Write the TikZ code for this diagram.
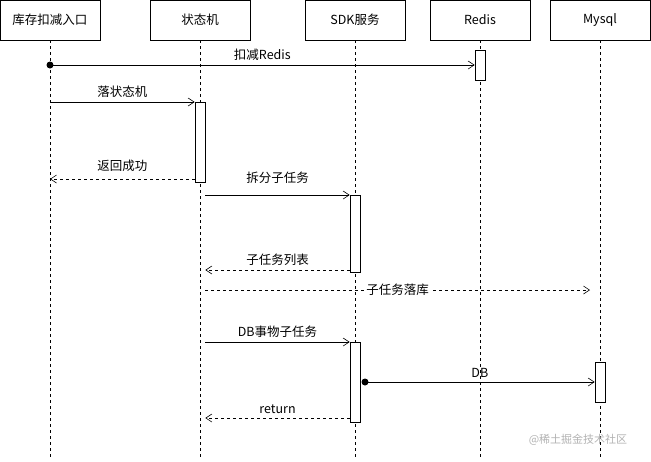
\documentclass[tikz,border=0pt]{standalone}
\usepackage{fontspec}
\setmainfont{Noto Sans CJK SC}
\usetikzlibrary{arrows.meta}
\begin{document}
\begin{tikzpicture}[x=1pt,y=-1pt,font=\fontsize{12.5}{14}\selectfont,
 head/.style={draw,fill=white,minimum width=100pt,minimum height=40pt,inner sep=0pt},
 life/.style={dash pattern=on 3pt off 3pt,line width=0.6pt},
 act/.style={draw,fill=white,line width=0.6pt,inner sep=0pt,minimum width=10pt},
 msg/.style={line width=0.6pt,-{Straight Barb[length=6pt,width=8pt]}},
 ret/.style={msg,dash pattern=on 3pt off 3pt},
 lbl/.style={inner sep=1pt,above=3pt}]
\useasboundingbox (0,0) rectangle (651,461);
\foreach \n/\x/\t in {a/50/库存扣减入口,b/200/状态机,c/355/SDK服务,d/480/Redis,e/600/Mysql}{
  \draw[life] (\x,40) -- (\x,458);
  \node[head] (\n) at (\x,20) {\t};
}
\node[act,minimum height=30pt] (ad) at (480,65) {};
\node[act,minimum height=80pt] (ab) at (200,142) {};
\node[act,minimum height=77pt] (ac1) at (355,233.5) {};
\node[act,minimum height=80pt] (ac2) at (355,382) {};
\node[act,minimum height=40pt] (ae) at (600,382) {};
\coordinate (s1) at (50,65);
\fill (s1) circle (3.5pt);
\draw[msg] (s1) -- (ad.west |- s1) node[midway,lbl] {扣减Redis};
\draw[msg] (50,102) -- (ab.west |- 0,102) node[midway,lbl] {落状态机};
\draw[ret] (ab.west |- 0,179) -- (50,179) node[midway,lbl,yshift=3pt] {返回成功};
\draw[msg] (ab.east |- 0,195) -- (ac1.west |- 0,195) node[midway,lbl,yshift=7pt] {拆分子任务};
\draw[ret] (ac1.west |- 0,270) -- (ab.east |- 0,270) node[midway,lbl] {子任务列表};
\draw[ret] (ab.east |- 0,290) -- (590,290) node[midway,fill=white,inner sep=1pt] {子任务落库};
\draw[msg] (ab.east |- 0,342) -- (ac2.west |- 0,342) node[midway,lbl] {DB事物子任务};
\coordinate (s2) at (365,382);
\fill (s2) circle (3.5pt);
\draw[msg] (s2) -- (ae.west |- s2) node[midway,lbl] {DB};
\draw[ret] (ac2.west |- 0,418) -- (ab.east |- 0,418) node[midway,lbl] {return};
\node[gray!60,font=\fontsize{11}{12}\selectfont] (wm) at (578,440) {@稀土掘金技术社区};
\end{tikzpicture}
\end{document}
